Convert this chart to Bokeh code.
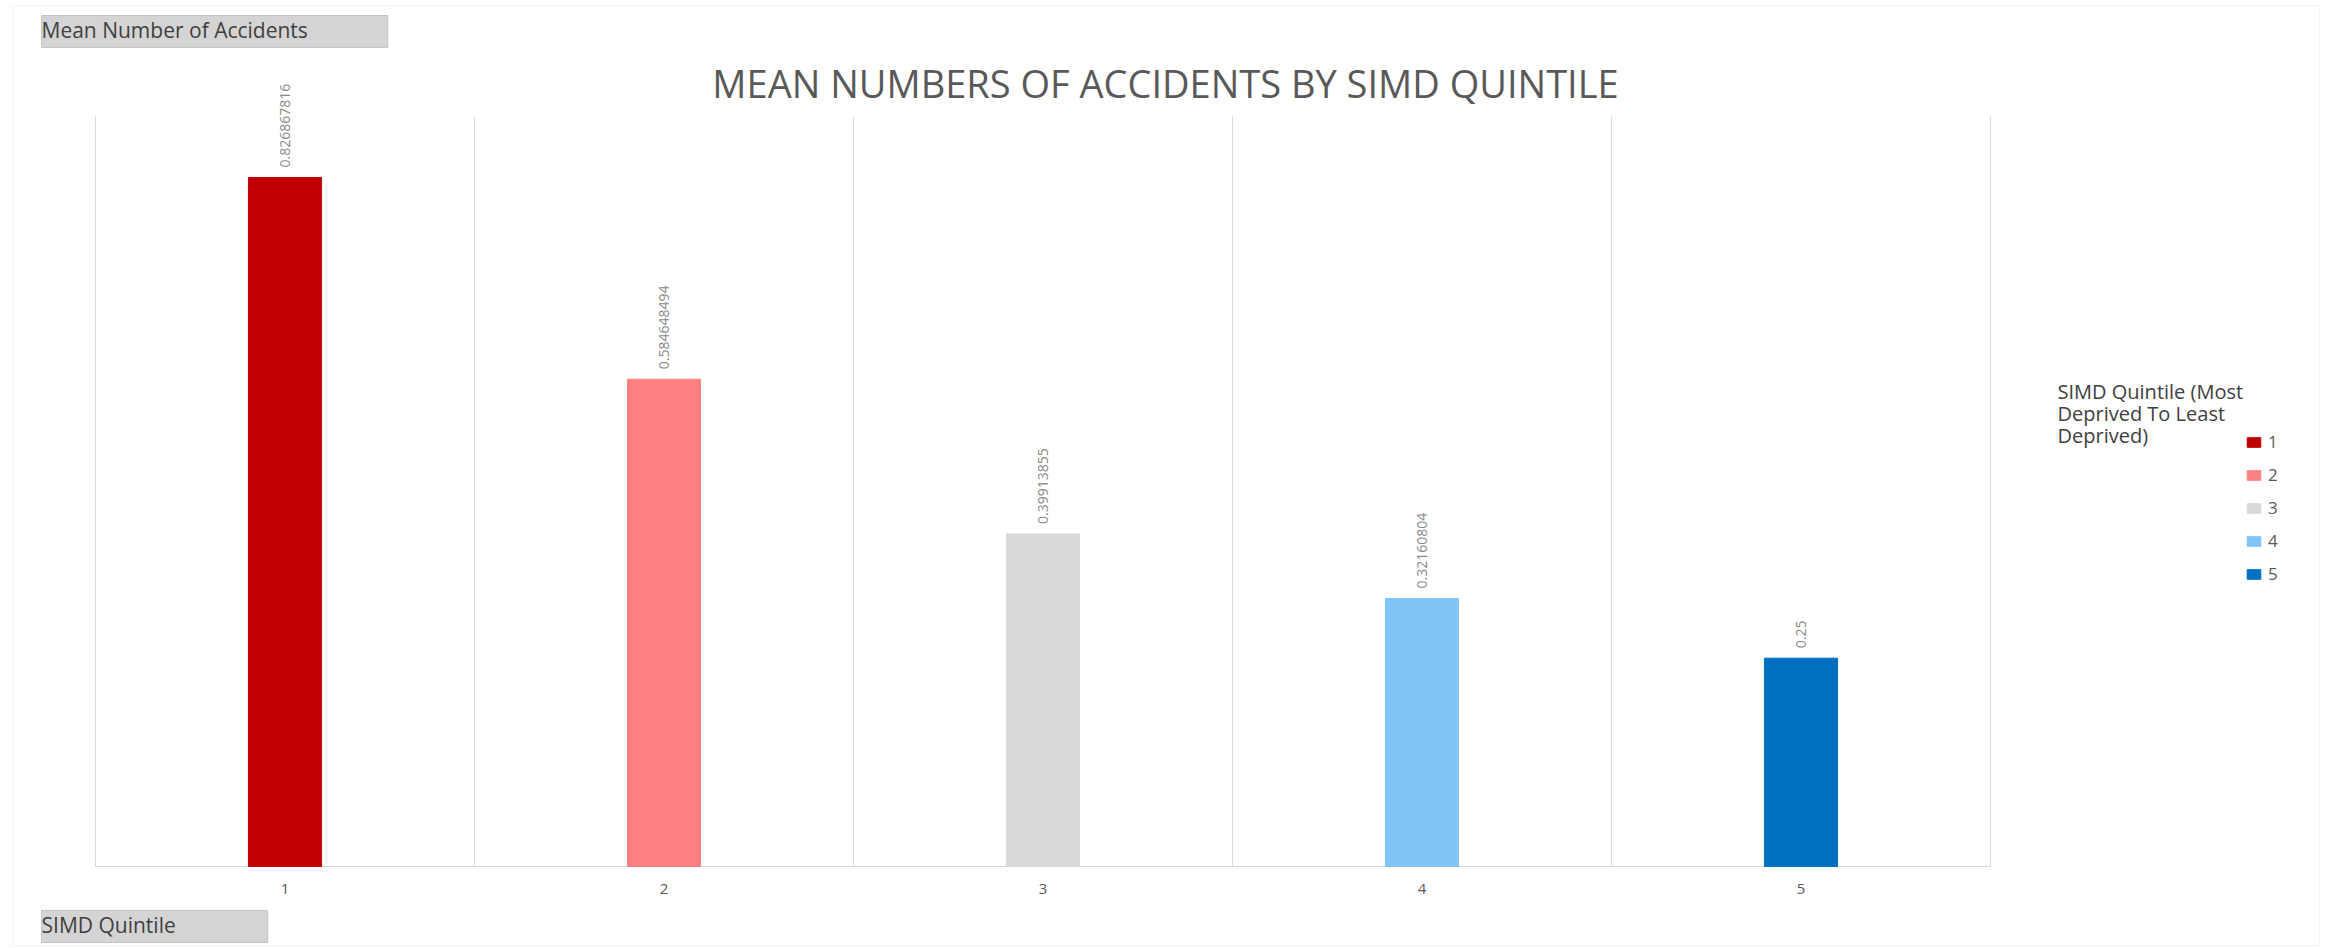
from bokeh.plotting import figure
from bokeh.models import Label, BoxAnnotation, Range1d, ColumnDataSource
from bokeh.core.properties import value
from bokeh.embed import file_html
from bokeh.resources import INLINE
import math

# ---- data ----
quintiles = ["1", "2", "3", "4", "5"]
x_pos = [1, 2, 3, 4, 5]
mean_accidents = [0.826867816, 0.584648494, 0.39913855, 0.32160804, 0.25]
value_labels = ["0.826867816", "0.584648494", "0.39913855", "0.32160804", "0.25"]
bar_colors = ["#C00000", "#FF8080", "#D9D9D9", "#80C4F8", "#0070C0"]
category_edges = [0.5, 1.5, 2.5, 3.5, 4.5, 5.5]

# ---- layout helpers (pixel -> data) ----
W, H = 2328, 948
F_L, F_R, F_T, F_B = 95, 1990, 116, 866   # plot area in pixels
Y_MAX = 0.9
X0, X1 = 0.5, 5.5
def sx(px):
    return X0 + (px - F_L) * (X1 - X0) / (F_R - F_L)
def sy(py):
    return (F_B - py) * Y_MAX / (F_B - F_T)

src = ColumnDataSource(dict(x=x_pos, top=mean_accidents, label=quintiles,
                            color=bar_colors, txt=value_labels,
                            base=[0] * len(x_pos)))

p = figure(width=W, height=H, output_backend="svg", toolbar_location=None,
           x_range=Range1d(sx(0), sx(W)), y_range=Range1d(sy(H), sy(0)),
           min_border=0)
p.title.visible = False
p.outline_line_color = None
p.background_fill_color = "white"
p.border_fill_color = "white"
p.xaxis.visible = False
p.yaxis.visible = False
p.xgrid.visible = False
p.ygrid.visible = False

# category separators (gridlines) and category axis line
p.segment(x0=category_edges, y0=[0] * len(category_edges),
          x1=category_edges, y1=[Y_MAX] * len(category_edges),
          line_color="#D9D9D9", line_width=1)
p.segment(x0=[category_edges[0]], y0=[0], x1=[category_edges[-1]], y1=[0],
          line_color="#D9D9D9", line_width=1)

p.vbar(x="x", top="top", width=0.193, color="color", source=src,
       legend_field="label")

# data labels
p.text(x="x", y="top", text="txt", source=src, angle=math.pi / 2,
       y_offset=-10, text_align="left", text_baseline="middle",
       text_font=value("Open Sans"), text_font_size="14px", text_color="#8A8A8A")

# category tick labels
p.text(x="x", y="base", text="label", source=src, y_offset=22,
       text_align="center", text_baseline="middle",
       text_font=value("Open Sans"), text_font_size="15px", text_color="#595959")

# legend
lg = p.legend[0]
lg.location = (2245, H - 585)
lg.padding = 0
lg.margin = 0
lg.spacing = 10
lg.border_line_color = None
lg.background_fill_alpha = 0
lg.glyph_width = 17
lg.glyph_height = 12
lg.label_height = 20
lg.label_standoff = 6
lg.label_text_font = "Open Sans"
lg.label_text_font_size = "17px"
lg.label_text_color = "#595959"

p.add_layout(Label(x=sx(2057), y=sy(377), text="SIMD Quintile (Most\nDeprived To Least\nDeprived)",
                   text_baseline="top", text_align="left", text_font="Open Sans",
                   text_font_size="20px", text_color="#404040", text_line_height=0.82))

# title
p.add_layout(Label(x=sx(1165), y=sy(82), text="MEAN NUMBERS OF ACCIDENTS BY SIMD QUINTILE",
                   text_align="center", text_baseline="middle", text_font="Open Sans",
                   text_font_size="38px", text_color="#595959"))

# field buttons
p.add_layout(Label(x=sx(41), y=sy(31), text="Mean Number of Accidents",
                   text_align="left", text_baseline="middle", text_font="Open Sans",
                   text_font_size="21px", text_color="#404040",
                   background_fill_color="#D4D4D4", border_line_color="#C4C4C4",
                   padding=(0, 80, 0, 4)))
p.add_layout(Label(x=sx(41), y=sy(926), text="SIMD Quintile",
                   text_align="left", text_baseline="middle", text_font="Open Sans",
                   text_font_size="21px", text_color="#404040",
                   background_fill_color="#D4D4D4", border_line_color="#C4C4C4",
                   padding=(0, 92, 0, 4)))

# outer chart border
p.add_layout(BoxAnnotation(left=sx(12), right=sx(2319), top=sy(5), bottom=sy(945),
                           fill_alpha=0, line_color="#D9D9D9", line_width=1))

open("out.html", "w").write(file_html(p, INLINE))
